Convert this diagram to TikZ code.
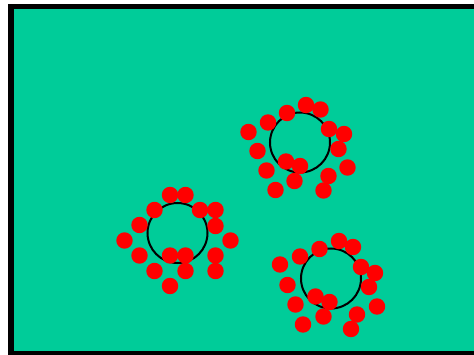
\documentclass[tikz,border=0pt]{standalone}
\usepackage{tikz}
\definecolor{fieldgreen}{RGB}{0,204,153}
\definecolor{dotred}{RGB}{255,0,0}

\begin{document}
\begin{tikzpicture}[x=0.02cm,y=-0.02cm,
  ring/.style={draw=black,line width=1.15pt},
  reddot/.style={fill=dotred}]
\useasboundingbox (0,0) rectangle (474,355);
\clip (0,0) rectangle (474,355);
% field with thick frame
\draw[fill=fieldgreen,line width=3.4pt] (11,6.5) rectangle (490,354);
% rings
\draw[ring] (300,142.5) circle [radius=0.6cm];
\draw[ring] (177.5,233) circle [radius=0.6cm];
\draw[ring] (331,278.5) circle [radius=0.6cm];
% dots round the upper ring
\foreach \p in {(306,105),(320.5,109.5),(287,113),(268,122.5),(248.5,132),
  (329,129),(344,134),(338.5,149),(257.5,151),(286,161.5),(300,166),
  (347.5,167.5),(266.5,170.5),(328.5,176),(294.5,181),(275.5,190),(323.5,190.5)}
  \fill[reddot] \p circle [radius=0.165cm];
% dots round the left ring
\foreach \p in {(170,195),(185.5,195),(154.5,210),(200,210),(215.5,210),
  (139.5,225),(215.5,226),(124.5,240.5),(230.5,240.5),(139.5,255.5),
  (170,255.5),(185.5,255.5),(215.5,255.5),(154.5,271),(185.5,271),
  (215.5,271),(170,286)}
  \fill[reddot] \p circle [radius=0.165cm];
% dots round the lower ring
\foreach \p in {(339,241),(353,247),(319.5,249),(300,256.5),(280,264.5),
  (361,267),(375,273),(287.5,285),(369,287),(315.5,296.5),(329.5,302),
  (377,306.5),(295.5,304.5),(357,314.5),(323.5,316.5),(303,324.5),(351,329)}
  \fill[reddot] \p circle [radius=0.165cm];
\end{tikzpicture}
\end{document}
